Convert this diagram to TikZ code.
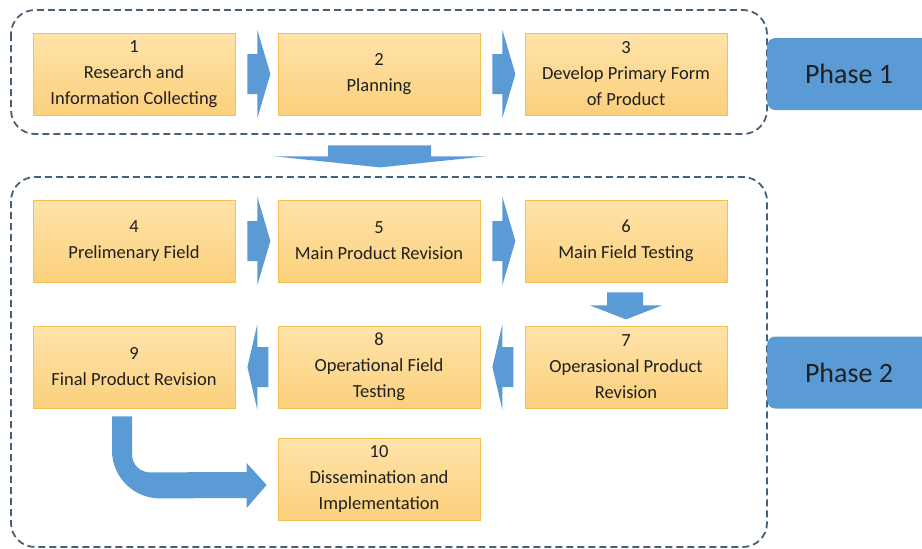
\documentclass[tikz,border=0pt]{standalone}
\usepackage{fontspec}
\setmainfont{Carlito}
\usetikzlibrary{calc}
\definecolor{boxtop}{HTML}{FFE3AA}
\definecolor{boxbot}{HTML}{FBD07C}
\definecolor{boxedge}{HTML}{F4C052}
\definecolor{arrowblue}{HTML}{5B9BD5}
\definecolor{dashcol}{HTML}{46607A}
\definecolor{txt}{HTML}{202020}
\tikzset{
  stepbox/.style={rectangle, minimum width=202pt, minimum height=82pt, inner sep=0pt,
    top color=boxtop, bottom color=boxbot, draw=boxedge, line width=0.8pt,
    align=center, text=txt, font=\fontsize{18.5}{26}\selectfont},
  phasebox/.style={draw=dashcol, line width=1.8pt, dash pattern=on 7pt off 4pt, rounded corners=24pt},
  phaselabel/.style={fill=arrowblue, rounded corners=8pt, minimum width=200pt, minimum height=72pt,
    inner sep=0pt},
  phasetext/.style={text=txt, font=\fontsize{28}{32}\selectfont},
  blockarrow/.style={fill=arrowblue, draw=none}
}
\begin{document}
\begin{tikzpicture}[x=1pt,y=-1pt]
\useasboundingbox (0,0) rectangle (922,549);
% phase frames
\draw[phasebox] (11,10) rectangle (767,134);
\draw[phasebox] (11,177) rectangle (767,547);
% phase labels
\begin{scope}
\clip (0,0) rectangle (922,549);
\node[phaselabel, anchor=west] (p1) at (767,74) {};
\node[phaselabel, anchor=west] (p2) at (767,372.5) {};
\end{scope}
\node[phasetext] (p1t) at (849,74) {Phase 1};
\node[phasetext] (p2t) at (849,372.5) {Phase 2};
% boxes
\node[stepbox] (b1) at (134,74) {1\\Research and\\Information Collecting};
\node[stepbox] (b2) at (379,74) {2\\Planning};
\node[stepbox] (b3) at (626,74) {3\\Develop Primary Form\\of Product};
\node[stepbox] (b4) at (134,241) {4\\Prelimenary Field};
\node[stepbox] (b5) at (379,241) {5\\Main Product Revision};
\node[stepbox] (b6) at (626,241) {6\\Main Field Testing};
\node[stepbox] (b9) at (134,367) {9\\Final Product Revision};
\node[stepbox] (b8) at (379,367) {8\\Operational Field\\Testing};
\node[stepbox] (b7) at (626,367) {7\\Operasional Product\\Revision};
\node[stepbox] (b10) at (379,479) {10\\Dissemination and\\Implementation};
% right block arrows
\foreach \a in {b1,b2,b4,b5}{
  \fill[blockarrow] ($(\a.east)+(12,-20)$) -- ($(\a.east)+(22,-20)$) -- ($(\a.east)+(22,-44)$)
    -- ($(\a.east)+(35,0)$) -- ($(\a.east)+(22,44)$) -- ($(\a.east)+(22,20)$) -- ($(\a.east)+(12,20)$) -- cycle;
}
% left block arrows
\foreach \a in {b8,b9}{
  \fill[blockarrow] ($(\a.east)+(33,-20)$) -- ($(\a.east)+(22,-20)$) -- ($(\a.east)+(22,-43)$)
    -- ($(\a.east)+(12,0)$) -- ($(\a.east)+(22,43)$) -- ($(\a.east)+(22,20)$) -- ($(\a.east)+(33,20)$) -- cycle;
}
% down arrow between phases
\fill[blockarrow] ($(b2.south)+(-51,30)$) -- ($(b2.south)+(52,30)$) -- ($(b2.south)+(52,41)$)
  -- ($(b2.south)+(106,41)$) -- ($(b2.south)+(1,52)$) -- ($(b2.south)+(-104,41)$) -- ($(b2.south)+(-51,41)$) -- cycle;
% down arrow 6 -> 7
\fill[blockarrow] ($(b6.south)+(-19,10)$) -- ($(b6.south)+(17,10)$) -- ($(b6.south)+(17,23)$)
  -- ($(b6.south)+(36,23)$) -- ($(b6.south)+(0,37)$) -- ($(b6.south)+(-36,23)$) -- ($(b6.south)+(-19,23)$) -- cycle;
% bent arrow 9 -> 10
\coordinate (bs) at ($(b9.south)+(-22,8)$);
\fill[blockarrow] (bs) -- ($(bs)+(0,34)$) .. controls ($(bs)+(0,60.5)$) and ($(bs)+(21.5,82)$) .. ($(bs)+(48,82)$)
  -- ($(b10.west)+(-31,19)$) -- ($(b10.west)+(-31,29)$) -- ($(b10.west)+(-11,6)$) -- ($(b10.west)+(-31,-16)$)
  -- ($(b10.west)+(-31,-7)$) -- ($(bs)+(38,56)$) .. controls ($(bs)+(28,56)$) and ($(bs)+(20,48)$) .. ($(bs)+(20,38)$)
  -- ($(bs)+(20,0)$) -- cycle;
\end{tikzpicture}
\end{document}
